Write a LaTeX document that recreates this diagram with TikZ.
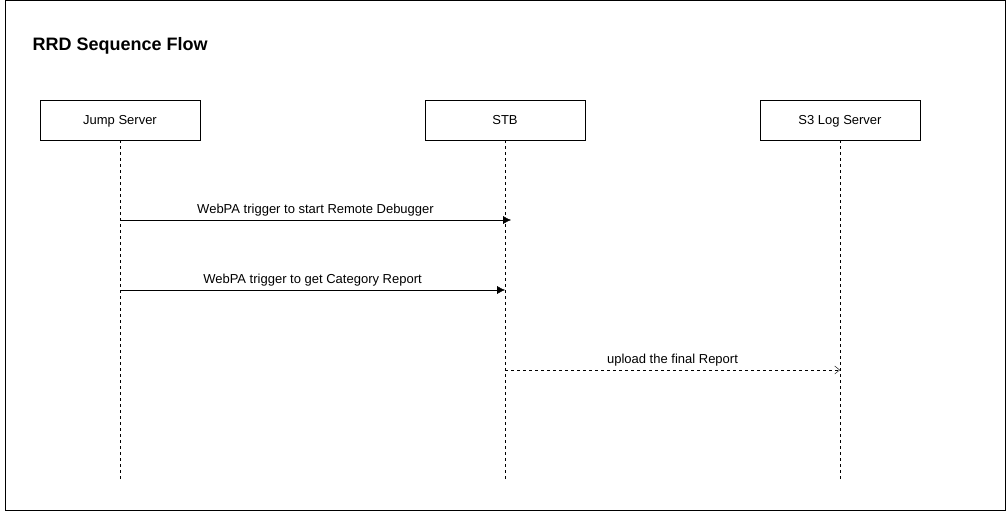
\documentclass[tikz,border=0pt]{standalone}
\usepackage{fontspec}
\setmainfont{Liberation Sans}
\usetikzlibrary{positioning, arrows.meta, calc}

\begin{document}
\begin{tikzpicture}[
  x=1pt, y=-1pt,
  actor/.style={draw=black, fill=white, minimum width=160pt, minimum height=40pt,
    inner sep=0pt, text height=9.3pt, text depth=0pt, font=\fontsize{13}{15}\selectfont},
  life/.style={draw=black, dash pattern=on 3pt off 3pt},
  msg/.style={-{Latex[length=8pt,width=8pt]}, draw=black},
  reply/.style={-{Straight Barb[length=5pt,width=8pt]}, draw=black, dash pattern=on 3pt off 3pt},
  lbl/.style={font=\fontsize{13}{15}\selectfont, inner sep=0pt}
]
\useasboundingbox (0,0) rectangle (1006,511);

% --- outer frame and title ---
\draw[black, line width=1pt] (5.5,0.5) rectangle (1005,510);
\node[anchor=west, font=\fontsize{18}{21}\selectfont\bfseries] (title) at (29,46) {RRD Sequence Flow};

% --- the three participants ---
\node[actor] (jump) at (120,120) {Jump Server};
\node[actor] (stb)  at (505,120) {STB};
\node[actor] (s3)   at (840,120) {S3 Log Server};

% lifelines down to the bottom
\coordinate (jump-end) at (120,480);
\coordinate (stb-end)  at (505,480);
\coordinate (s3-end)   at (840,480);
\draw[life] (jump.south) -- (jump-end);
\draw[life] (stb.south)  -- (stb-end);
\draw[life] (s3.south)   -- (s3-end);

% --- message end points on the lifelines ---
\coordinate (m1-from) at (120,220);
\coordinate (m1-to)   at (511,220);
\coordinate (m2-from) at (120,290);
\coordinate (m2-to)   at (505,290);
\coordinate (m3-from) at (505,370);
\coordinate (m3-to)   at (840,370);

% messages
\draw[msg] (m1-from) -- (m1-to)
  node[lbl, midway, above=4pt] {WebPA trigger to start Remote Debugger};
\draw[msg] (m2-from) -- (m2-to)
  node[lbl, midway, above=4pt] {WebPA trigger to get Category Report};
\draw[reply] (m3-from) -- (m3-to)
  node[lbl, midway, above=4pt] {upload the final Report};

\end{tikzpicture}
\end{document}
